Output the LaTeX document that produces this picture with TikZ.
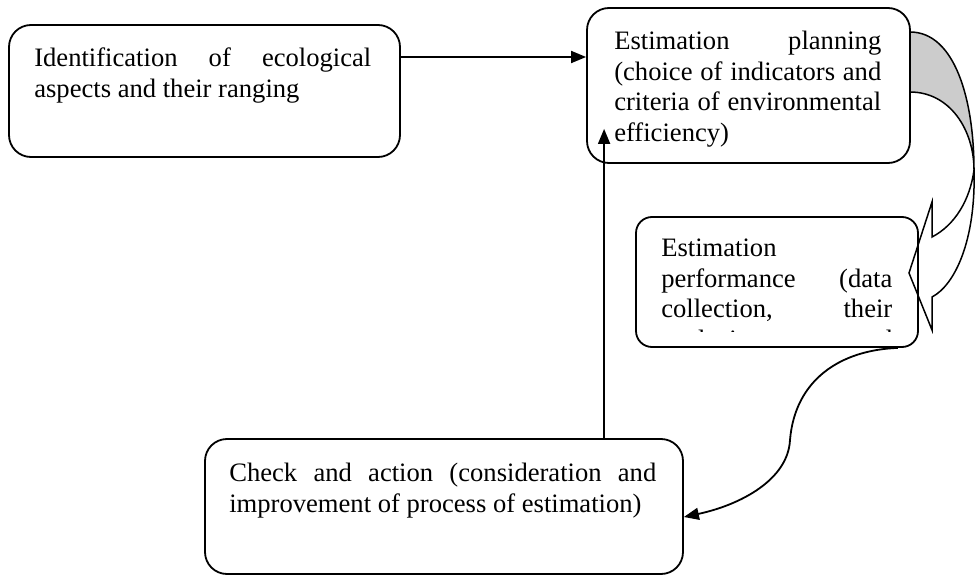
\documentclass[tikz,border=0pt]{standalone}
\usepackage{fontspec}
\setmainfont{Liberation Serif}
\usetikzlibrary{arrows.meta}
\hyphenpenalty=10000
\tikzset{
  box/.style={draw,line width=1.8pt,rounded corners=22pt,inner sep=0pt},
  txt/.style={anchor=north west,inner sep=0pt,align=justify,
    font=\fontsize{26.6}{30.5}\selectfont},
  tip/.style={-{Triangle[length=15pt,width=12pt]},line width=1.8pt}
}
\begin{document}
\begin{tikzpicture}[x=1pt,y=-1pt]
  \useasboundingbox (0,0) rectangle (975,575);
  \filldraw[line width=1.5pt,fill=black!20] (910,32) .. controls (955,32) and (974,100) .. (974,170)
        .. controls (974,130) and (950,92) .. (910,92) -- cycle;
  \draw[line width=1.5pt,line join=miter] (974,170) .. controls (976,240) and (955,285) .. (932,297)
        -- (932,330) -- (909,273) -- (932,202) -- (932,237)
        .. controls (955,225) and (970,200) .. (974,170);
  \node[box,minimum width=391pt,minimum height=132pt] (ident) at (204.5,91) {};
  \node[box,minimum width=323pt,minimum height=155pt] (plan) at (748.5,85.5) {};
  \node[box,minimum width=282pt,minimum height=130pt,rounded corners=16pt] (perf) at (777,282) {};
  \node[box,minimum width=478pt,minimum height=135pt] (check) at (444,506.5) {};
  \node[txt,text width=337pt] (identtxt) at ([xshift=26pt,yshift=-21pt]ident.north west)
    {\strut Identification of ecological\linebreak aspects and their ranging};
  \node[txt,text width=267pt] (plantxt) at ([xshift=28pt,yshift=-21pt]plan.north west)
    {\strut Estimation planning\linebreak (choice of indicators and\linebreak criteria of environmental\linebreak efficiency)};
  \begin{scope}
    \clip (perf.north west) rectangle ([yshift=16pt]perf.south east);
    \node[txt,text width=231pt] (perftxt) at ([xshift=26pt,yshift=-19pt]perf.north west)
      {\strut Estimation\linebreak performance (data\linebreak collection, their\linebreak analysis and estimation)};
  \end{scope}
  \node[txt,text width=427pt] (checktxt) at ([xshift=25pt,yshift=-22pt]check.north west)
    {\strut Check and action (consideration and\linebreak improvement of process of estimation)};
  \coordinate (planin) at ([xshift=18pt,yshift=35pt]plan.south west);
  \draw[tip] ([yshift=34pt]ident.east) coordinate (a1) -- (a1 -| plan.west);
  \draw[tip] (check.north -| planin) -- (planin);
  \draw[tip] ([xshift=-21pt]perf.south east) .. controls (840,350) and (795,380) .. (790,440)
        .. controls (788,480) and (740,505) .. ([yshift=-10.5pt]check.east);
\end{tikzpicture}
\end{document}
